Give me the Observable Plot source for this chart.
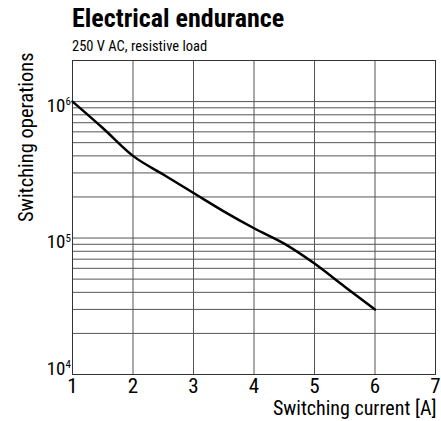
<!DOCTYPE html>
<html><head><meta charset="utf-8">
<script src="https://cdn.jsdelivr.net/npm/d3@7"></script>
<script src="https://cdn.jsdelivr.net/npm/@observablehq/plot@0.6"></script>
<style>
body{margin:0;background:#fff;}
#wrap{position:relative;width:441px;height:421px;font-family:"Roboto Condensed","Roboto",sans-serif;font-stretch:75%;color:#000;}
#head{position:relative;height:50px;}
#title{position:absolute;left:72px;top:5px;font-size:26px;font-weight:bold;line-height:26px;white-space:nowrap;}
#sub{position:absolute;left:72px;top:40px;font-size:14.5px;line-height:14.5px;white-space:nowrap;}
#chart svg{display:block;overflow:visible;background:transparent;}
#chart svg text{font-stretch:75%;}
</style>
</head><body>
<div id="wrap">
  <div id="head">
    <div id="title">Electrical endurance</div>
    <div id="sub">250 V AC, resistive load</div>
  </div>
  <div id="chart"></div>
</div>
<script>
// Data
const current = [1, 1.5, 2, 2.5, 3, 3.5, 4, 4.5, 5, 5.5, 6];
const operations = [1000000, 640000, 400000, 292000, 214000, 157000, 118000, 91000, 65000, 44000, 30000];
const xTicks = [1, 2, 3, 4, 5, 6, 7];
const yMajorUpper = [100000, 1000000];
const yMajorLower = [10000];
const yGrid = [20000, 30000, 40000, 50000, 60000, 70000, 80000, 90000, 100000,
               200000, 300000, 400000, 500000, 600000, 700000, 800000, 900000, 1000000, 2000000];
const xLabel = "Switching current [A]";
const yLabel = "Switching operations";

const rows = current.map((c, i) => ({current: c, operations: operations[i]}));
const font = "'Roboto Condensed','Roboto',sans-serif";
const gridColor = "#555";

const chart = Plot.plot({
  width: 441,
  height: 371,
  marginTop: 10,
  marginLeft: 72,
  marginRight: 6,
  marginBottom: 47,
  x: {domain: [1, 7], axis: null},
  y: {type: "log", domain: [10000, 2000000], axis: null},
  style: {fontFamily: font, background: "transparent", overflow: "visible", color: "#000"},
  marks: [
    Plot.ruleY(yGrid, {stroke: gridColor, strokeWidth: 1}),
    Plot.ruleX(xTicks, {stroke: gridColor, strokeWidth: 1}),
    Plot.frame({stroke: "#333", strokeWidth: 1}),
    Plot.line(rows, {x: "current", y: "operations", stroke: "#000", strokeWidth: 2.5, strokeLinejoin: "round", curve: "monotone-x"}),
    Plot.text(xTicks, {x: d => d, frameAnchor: "bottom", lineAnchor: "top", dy: 4, fontSize: 21, text: d => String(d), fill: "#000"}),
    Plot.text(yMajorUpper, {y: d => d, frameAnchor: "left", text: () => "10", textAnchor: "end", lineAnchor: "middle", dx: -7, dy: 4, fontSize: 19, fill: "#000"}),
    Plot.text(yMajorUpper, {y: d => d, frameAnchor: "left", text: d => String(Math.round(Math.log10(d))), textAnchor: "start", lineAnchor: "middle", dx: -7, dy: 0, fontSize: 11, fill: "#000"}),
    Plot.text(yMajorLower, {y: d => d, frameAnchor: "left", text: () => "10", textAnchor: "end", lineAnchor: "middle", dx: -7, dy: -6, fontSize: 19, fill: "#000"}),
    Plot.text(yMajorLower, {y: d => d, frameAnchor: "left", text: d => String(Math.round(Math.log10(d))), textAnchor: "start", lineAnchor: "middle", dx: -7, dy: -10, fontSize: 11, fill: "#000"}),
    Plot.text([xLabel], {text: d => d, frameAnchor: "bottom-right", textAnchor: "end", lineAnchor: "top", dx: 1, dy: 26, fontSize: 20, fill: "#000"}),
    Plot.text([yLabel], {text: d => d, frameAnchor: "top-left", rotate: -90, textAnchor: "end", lineAnchor: "bottom", dx: -40, dy: -8, fontSize: 20.5, fill: "#000"})
  ]
});
document.getElementById("chart").appendChild(chart);
</script>
</body></html>
